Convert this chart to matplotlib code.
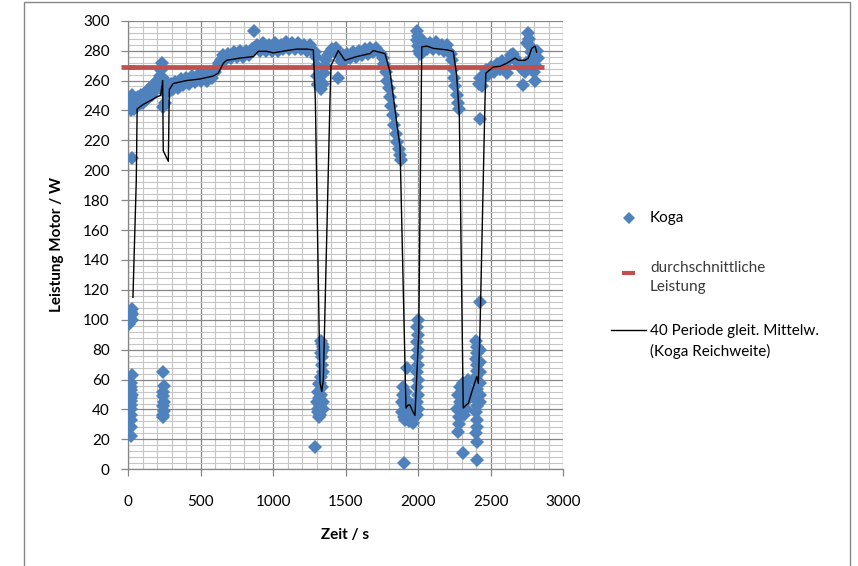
import matplotlib
matplotlib.use("Agg")
import matplotlib.pyplot as plt
from matplotlib.lines import Line2D
from matplotlib.patches import Rectangle
from matplotlib.ticker import MultipleLocator

plt.rcParams['font.family'] = ['Lato', 'DejaVu Sans']

band1_t = [0, 10, 20, 30, 40, 50, 60, 70, 80, 90, 100, 110, 120, 130, 140, 150, 160, 170, 180, 190,
           200, 210, 220, 228, 234, 240, 245, 250, 23, 241]
band1_w = [243, 247, 240, 246, 241, 248, 243, 249, 244, 250, 245, 251, 247, 253, 249, 255, 250, 257, 253, 259,
           255, 261, 263, 267, 272, 262, 252, 245, 250, 242]

band2_t = [265, 275, 285, 295, 305, 320, 340, 360, 380, 400, 420, 440, 460, 480, 500, 520, 540, 560, 580, 595,
           610, 625, 640, 655, 670, 690, 710, 730, 750, 770, 790, 810, 830, 850, 865, 870, 890, 910, 930, 950,
           970, 990, 1010, 1030, 1050, 1070, 1090, 1110, 1130, 1150, 1170, 1190, 1210, 1230, 1250, 1270, 1285]
band2_w = [252, 257, 253, 258, 254, 259, 255, 261, 257, 262, 258, 263, 259, 264, 260, 265, 260, 266, 262, 266,
           269, 272, 274, 277, 274, 278, 275, 279, 276, 280, 276, 280, 277, 281, 293, 282, 284, 280, 285, 280,
           284, 280, 285, 280, 284, 281, 286, 281, 285, 281, 285, 281, 284, 280, 284, 280, 279]

band3_t = [1292, 1298, 1302, 1306, 1310, 1320, 1330, 1340, 1350, 1355, 1365, 1375, 1390, 1405, 1420, 1435, 1447,
           1450, 1465, 1480, 1495, 1510, 1530, 1550, 1570, 1590, 1610, 1630, 1650, 1670, 1690, 1710, 1730, 1745]
band3_w = [276, 270, 263, 258, 257, 260, 254, 258, 265, 270, 274, 277, 279, 281, 280, 282, 262,
           277, 273, 277, 274, 278, 275, 279, 276, 280, 277, 281, 278, 282, 279, 282, 279, 278]

band4_t = [1755, 1765, 1775, 1785, 1795, 1805, 1815, 1825, 1835, 1845, 1855, 1865, 1872, 1878]
band4_w = [275, 271, 266, 260, 255, 249, 243, 237, 230, 224, 219, 214, 210, 207]

band5_t = [1990, 1993, 1996, 2000, 2004, 2008, 2012, 2016, 2020, 2025, 2030, 2040, 2060, 2080, 2100,
           2120, 2140, 2160, 2180, 2200, 2215, 2225, 2232, 2240, 2248, 2256, 2264, 2271, 2278]
band5_w = [293, 287, 283, 290, 280, 286, 278, 284, 288, 282, 279, 285, 281, 285, 281,
           286, 281, 284, 280, 284, 279, 278, 274, 268, 262, 256, 250, 245, 241]

band6_t = [2420, 2428, 2436, 2445, 2455, 2465, 2480, 2500, 2520, 2540, 2560, 2580, 2600, 2615, 2625, 2640,
           2655, 2670, 2685, 2700, 2712, 2724, 2735, 2745, 2752, 2758, 2764, 2770, 2776, 2782, 2790, 2798,
           2805, 2812, 2818, 2825]
band6_w = [258, 262, 256, 261, 264, 267, 264, 269, 266, 271, 268, 273, 270, 265, 274, 277,
           278, 275, 272, 270, 268, 257, 266, 272, 285, 292, 288, 283, 279, 270, 276, 266,
           260, 270, 280, 275]

low0_t = [8, 12, 15, 18, 20, 23, 25, 28, 23]
low0_w = [97, 99, 101, 103, 105, 107, 104, 100, 208]

low1_t = [18, 20, 17, 21, 19, 22, 18, 20, 23, 21, 19, 22, 24]
low1_w = [22, 28, 33, 36, 40, 43, 46, 48, 50, 53, 55, 58, 63]

low2_t = [241, 243, 240, 242, 244, 241, 243, 240, 242]
low2_w = [65, 56, 52, 49, 45, 42, 39, 36, 35]

low3_t = [1288, 1300, 1305, 1310, 1315, 1320, 1325, 1330, 1335, 1322, 1328, 1315, 1340, 1345, 1305, 1335,
          1338, 1332, 1340, 1336, 1330, 1342, 1345, 1318]
low3_w = [15, 45, 40, 38, 48, 42, 36, 50, 55, 58, 62, 57, 45, 40, 52, 70,
          75, 78, 80, 84, 86, 82, 65, 35]

low4_t = [1885, 1890, 1895, 1900, 1905, 1910, 1915, 1920, 1925, 1930, 1935, 1940, 1945, 1950, 1955, 1960,
          1920, 1904, 1912, 1893]
low4_w = [45, 38, 50, 35, 42, 33, 47, 39, 36, 44, 32, 40, 37, 34, 43, 31,
          68, 4, 52, 55]

low5_t = [1993, 1995, 1993, 1995, 1993, 1995, 1993, 1995, 1993, 1995, 1993, 1995, 1993, 1995]
low5_w = [36, 40, 45, 50, 55, 60, 65, 70, 75, 80, 85, 90, 95, 100]

low6_t = [2270, 2275, 2280, 2285, 2290, 2295, 2300, 2305, 2310, 2315, 2320, 2325, 2330, 2335, 2340, 2345,
          2350, 2276, 2310, 2280]
low6_w = [40, 50, 35, 45, 55, 38, 48, 42, 58, 36, 50, 45, 40, 55, 60, 47,
          52, 25, 11, 30]

low7_t = [2400, 2403, 2405, 2400, 2403, 2405, 2400, 2403, 2405, 2400, 2403, 2405, 2400, 2403, 2405,
          2400, 2403, 2405, 2425, 2428, 2425, 2428, 2425, 2428, 2425, 2425]
low7_w = [86, 82, 78, 74, 70, 66, 62, 58, 54, 50, 46, 42, 38, 33, 28,
          24, 18, 6, 80, 72, 65, 58, 50, 45, 112, 234]

# durchschnittliche Leistung
avg_t = [0, 2820]
avg_w = [269, 269]

# 40 Periode gleit. Mittelw. (Koga Reichweite)
ma_t = [32, 55, 61, 103, 161, 196, 223, 237, 241, 276, 283, 310, 403, 494, 586, 621, 655, 678, 770, 862,
        897, 954, 1000, 1092, 1161, 1230, 1276, 1290, 1322, 1334, 1345, 1391, 1398, 1448, 1494, 1575, 1667,
        1690, 1770, 1805, 1862, 1874, 1915, 1930, 1943, 1960, 1977, 2003, 2020, 2024, 2060, 2103, 2150,
        2196, 2241, 2264, 2283, 2310, 2330, 2345, 2370, 2403, 2414, 2425, 2460, 2466, 2517, 2563, 2609,
        2667, 2690, 2736, 2759, 2782, 2805, 2816]
ma_w = [115, 193, 241, 244, 247, 249, 250, 260, 213, 206, 254, 258, 260, 261, 263, 265, 271.5, 273.5, 275, 276,
        279.5, 279.5, 278.5, 280, 281, 281, 280.5, 247, 58, 52, 60, 247, 270, 280, 273.5, 276, 278,
        280, 278, 266, 224, 216, 41, 43, 43, 39, 36, 91, 247, 282.5, 283, 281.5, 281,
        280.5, 279.5, 264, 237, 41, 43, 44, 52, 62, 57.5, 91, 247, 265, 269, 269.5, 271.5,
        275, 273.5, 273.5, 275, 281.5, 283, 279]

koga_t = (band1_t + band2_t + band3_t + band4_t + band5_t + band6_t
          + low0_t + low1_t + low2_t + low3_t + low4_t + low5_t + low6_t + low7_t)
koga_w = (band1_w + band2_w + band3_w + band4_w + band5_w + band6_w
          + low0_w + low1_w + low2_w + low3_w + low4_w + low5_w + low6_w + low7_w)

BLUE = '#4F81BD'
RED = '#C0504D'
MAJOR = '#868686'
MINOR = '#c6c6c6'

W, H = 858, 566
fig = plt.figure(figsize=(W / 100, H / 100), dpi=100)
x0, x1, y0, y1 = 128.3, 563.3, 20.7, 469.3
ax = fig.add_axes([x0 / W, 1 - y1 / H, (x1 - x0) / W, (y1 - y0) / H])

ax.plot(koga_t, koga_w, 'D', ms=6.8, color=BLUE, mew=0, zorder=3)
ax.plot(avg_t, avg_w, '-', color=RED, lw=3.4, marker='_', ms=9.5, mew=3.4,
        solid_capstyle='butt', zorder=4, clip_on=False)
ax.plot(ma_t, ma_w, '-', color='black', lw=1.0, zorder=5)

ax.set_xlim(0, 3000)
ax.set_ylim(0, 300)
ax.xaxis.set_major_locator(MultipleLocator(500))
ax.xaxis.set_minor_locator(MultipleLocator(100))
ax.yaxis.set_major_locator(MultipleLocator(20))
ax.yaxis.set_minor_locator(MultipleLocator(4))
ax.grid(which='minor', color=MINOR, lw=0.8, zorder=0)
ax.grid(which='major', color=MAJOR, lw=0.9, zorder=1)
ax.set_axisbelow(True)

for s in ['top', 'right']:
    ax.spines[s].set_visible(False)
for s in ['left', 'bottom']:
    ax.spines[s].set_color(MAJOR)
    ax.spines[s].set_linewidth(0.9)

ax.tick_params(which='major', direction='out', length=5, width=0.9, color=MAJOR, labelsize=11)
ax.tick_params(axis='x', which='major', pad=13.5)
ax.tick_params(axis='y', which='major', pad=8.4)
ax.tick_params(which='minor', length=0)

fig.text(345 / W, 1 - 535 / H, 'Zeit / s', ha='center', va='center', fontsize=11, fontweight='bold')
fig.text(57 / W, 1 - 245 / H, 'Leistung Motor / W', ha='center', va='center', rotation=90,
         fontsize=11, fontweight='bold')

# legend drawn by hand, as in the original
fig.add_artist(Line2D([629 / W], [1 - 218 / H], marker='D', ms=6.3, color=BLUE, mew=0, ls='none'))
fig.text(650 / W, 1 - 218 / H, 'Koga', ha='left', va='center', fontsize=11)
fig.add_artist(Line2D([622 / W, 635 / W], [1 - 273 / H, 1 - 273 / H], color=RED, lw=3,
                      solid_capstyle='butt'))
fig.text(650 / W, 1 - 277.5 / H, 'durchschnittliche\nLeistung', ha='left', va='center',
         fontsize=11, linespacing=1.5, color='#3a3a3a')
fig.add_artist(Line2D([611 / W, 646 / W], [1 - 330 / H, 1 - 330 / H], color='black', lw=1.0))
fig.text(650 / W, 1 - 341.5 / H, '40 Periode gleit. Mittelw.\n(Koga Reichweite)', ha='left',
         va='center', fontsize=11, linespacing=1.5)

# outer chart frame
fig.add_artist(Rectangle((23.5 / W, -0.02), (849.5 - 23.5) / W, 1.02 - 1.5 / H,
                         transform=fig.transFigure, fill=False, edgecolor=MAJOR, lw=1.0))

fig.savefig('out.png', dpi=100)
